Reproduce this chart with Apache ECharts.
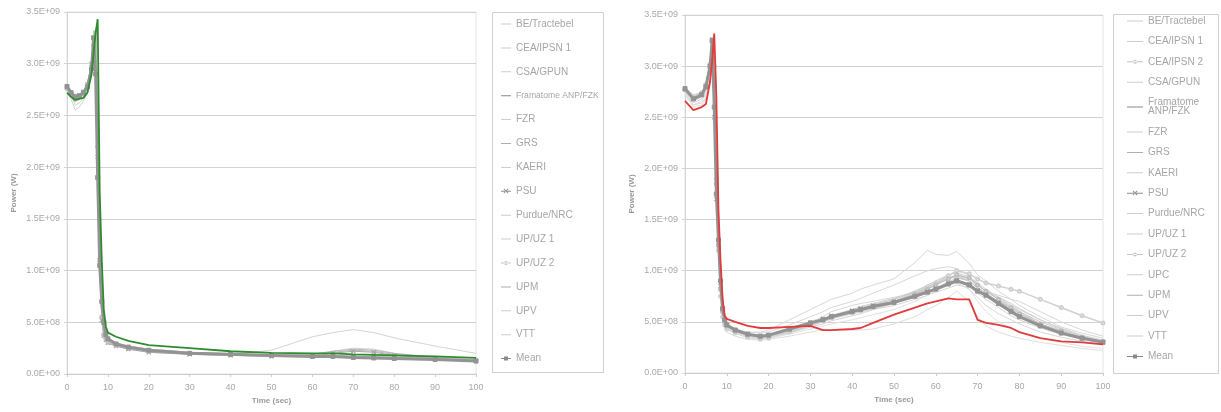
<!DOCTYPE html>
<html>
<head>
<meta charset="utf-8">
<script src="https://cdn.jsdelivr.net/npm/echarts@6/dist/echarts.min.js"></script>
<style>
  html, body { margin: 0; padding: 0; background: #ffffff; }
  #chart { width: 1221px; height: 412px; }
</style>
</head>
<body>
<div id="chart"></div>
<script>
// ---- Data: reactor power, values in units of 1E+09 W ----

// Case A (left panel) sample times, s
const timeA = [0,1,2,3,4,5,6,6.5,7,7.5,8,8.5,9,9.5,10,12,15,20,30,40,50,60,65,70,75,80,90,100];
const aBE      = [2.75,2.70,2.66,2.68,2.70,2.76,2.92,3.15,3.30,2.60,1.40,0.70,0.42,0.36,0.33,0.30,0.27,0.24,0.21,0.195,0.185,0.18,0.18,0.17,0.165,0.16,0.15,0.14];
const aCEA1    = [2.76,2.70,2.60,2.62,2.66,2.74,2.90,3.10,3.25,2.30,1.20,0.60,0.40,0.35,0.32,0.29,0.26,0.23,0.205,0.19,0.18,0.19,0.22,0.25,0.24,0.20,0.16,0.14];
const aCSA     = [2.74,2.66,2.55,2.58,2.64,2.72,2.88,3.05,3.20,2.00,1.00,0.50,0.38,0.34,0.31,0.28,0.25,0.22,0.20,0.19,0.23,0.36,0.40,0.43,0.40,0.35,0.27,0.20];
const aFRA     = [2.72,2.68,2.65,2.66,2.67,2.72,2.90,3.10,3.30,3.43,1.75,1.10,0.62,0.46,0.40,0.36,0.32,0.28,0.25,0.22,0.205,0.20,0.20,0.19,0.185,0.18,0.17,0.155];
const aFZR     = [2.78,2.72,2.68,2.70,2.73,2.80,3.00,3.22,3.32,2.50,1.30,0.62,0.40,0.35,0.32,0.29,0.26,0.23,0.20,0.19,0.18,0.17,0.17,0.165,0.16,0.155,0.145,0.13];
const aGRS     = [2.77,2.71,2.67,2.69,2.72,2.79,2.97,3.20,3.30,2.40,1.25,0.60,0.39,0.34,0.31,0.28,0.25,0.22,0.20,0.19,0.185,0.19,0.22,0.24,0.23,0.20,0.16,0.135];
const aKAERI   = [2.76,2.70,2.67,2.68,2.71,2.77,2.94,3.18,3.28,2.30,1.15,0.55,0.37,0.33,0.30,0.27,0.24,0.21,0.19,0.18,0.175,0.17,0.17,0.165,0.16,0.155,0.14,0.125];
const aPSU     = [2.78,2.71,2.67,2.69,2.73,2.80,3.00,3.25,3.30,2.10,1.10,0.52,0.37,0.33,0.30,0.27,0.24,0.21,0.19,0.18,0.17,0.17,0.20,0.22,0.21,0.18,0.15,0.13];
const aPURDUE  = [2.77,2.71,2.67,2.69,2.72,2.78,2.96,3.20,3.29,2.35,1.20,0.58,0.38,0.34,0.31,0.28,0.25,0.22,0.20,0.185,0.175,0.17,0.17,0.165,0.16,0.155,0.145,0.13];
const aUPUZ1   = [2.75,2.69,2.64,2.66,2.70,2.76,2.93,3.15,3.27,2.50,1.30,0.65,0.42,0.36,0.33,0.30,0.27,0.24,0.21,0.195,0.185,0.18,0.18,0.175,0.17,0.165,0.155,0.14];
const aUPUZ2   = [2.76,2.70,2.66,2.68,2.71,2.77,2.95,3.18,3.30,2.20,1.10,0.55,0.38,0.34,0.31,0.28,0.25,0.22,0.20,0.19,0.18,0.175,0.175,0.17,0.165,0.16,0.15,0.135];
const aUPM     = [2.77,2.70,2.66,2.68,2.71,2.78,2.96,3.20,3.31,2.45,1.25,0.60,0.39,0.35,0.32,0.29,0.26,0.23,0.20,0.19,0.18,0.18,0.21,0.23,0.22,0.19,0.155,0.13];
const aUPV     = [2.74,2.68,2.63,2.65,2.69,2.75,2.92,3.12,3.24,2.20,1.10,0.55,0.38,0.34,0.31,0.28,0.25,0.22,0.20,0.19,0.18,0.175,0.17,0.165,0.16,0.155,0.145,0.13];
const aVTT     = [2.78,2.72,2.68,2.70,2.74,2.81,3.00,3.24,3.33,2.60,1.35,0.66,0.41,0.36,0.33,0.30,0.27,0.24,0.21,0.195,0.185,0.18,0.175,0.17,0.165,0.16,0.15,0.135];
const aMEAN    = [2.78,2.72,2.68,2.69,2.72,2.78,2.95,3.25,2.90,1.90,1.05,0.70,0.50,0.38,0.34,0.29,0.26,0.23,0.20,0.19,0.18,0.17,0.17,0.16,0.155,0.15,0.14,0.125];

// Case B (right panel) sample times, s
const timeB = [0,2,4,5,6,6.5,7,7.5,8,8.5,9,9.5,10,12,15,18,20,25,30,33,35,40,42,45,50,55,58,60,63,65,68,70,72,75,78,80,85,90,95,100];
const bBE      = [2.76,2.69,2.72,2.78,2.96,3.18,3.28,2.20,1.30,0.80,0.55,0.47,0.44,0.40,0.37,0.36,0.37,0.42,0.48,0.51,0.54,0.58,0.60,0.62,0.66,0.72,0.76,0.79,0.83,0.86,0.84,0.78,0.72,0.64,0.56,0.52,0.44,0.38,0.33,0.30];
const bCEA1    = [2.74,2.62,2.64,2.70,2.90,3.10,3.25,2.40,1.40,0.85,0.58,0.48,0.45,0.42,0.40,0.40,0.42,0.52,0.62,0.68,0.72,0.78,0.82,0.86,0.92,1.08,1.20,1.16,1.15,1.19,1.07,0.96,0.90,0.80,0.72,0.66,0.55,0.45,0.39,0.34];
const bCEA2    = [2.77,2.70,2.74,2.82,3.02,3.26,3.00,1.90,1.20,0.75,0.55,0.47,0.43,0.39,0.35,0.33,0.34,0.40,0.47,0.51,0.54,0.59,0.61,0.64,0.70,0.78,0.84,0.88,0.95,1.00,0.97,0.92,0.88,0.85,0.82,0.80,0.72,0.64,0.56,0.49];
const bCSA     = [2.72,2.60,2.62,2.68,2.88,3.08,3.22,2.30,1.40,0.80,0.52,0.44,0.40,0.36,0.33,0.32,0.33,0.36,0.40,0.42,0.42,0.42,0.42,0.43,0.48,0.55,0.62,0.66,0.74,0.80,0.70,0.55,0.46,0.40,0.36,0.34,0.30,0.27,0.24,0.22];
const bFRA     = [2.66,2.57,2.60,2.63,2.85,3.05,3.32,2.70,1.60,1.10,0.72,0.56,0.53,0.50,0.46,0.44,0.44,0.45,0.46,0.42,0.42,0.43,0.44,0.49,0.57,0.64,0.68,0.70,0.73,0.72,0.72,0.52,0.49,0.47,0.44,0.40,0.34,0.31,0.30,0.28];
const bFZR     = [2.79,2.72,2.74,2.80,3.02,3.27,3.10,2.10,1.25,0.78,0.58,0.50,0.46,0.41,0.37,0.35,0.36,0.41,0.47,0.50,0.53,0.58,0.60,0.63,0.68,0.74,0.79,0.83,0.89,0.93,0.90,0.84,0.78,0.68,0.62,0.58,0.48,0.40,0.34,0.30];
const bGRS     = [2.77,2.67,2.71,2.78,2.98,3.22,2.90,1.90,1.20,0.80,0.60,0.50,0.45,0.40,0.36,0.34,0.35,0.40,0.46,0.50,0.53,0.59,0.62,0.66,0.72,0.80,0.86,0.90,0.96,0.98,0.94,0.88,0.82,0.74,0.66,0.60,0.48,0.40,0.35,0.31];
const bKAERI   = [2.78,2.70,2.73,2.80,3.00,3.24,2.70,1.80,1.20,0.80,0.60,0.50,0.45,0.40,0.37,0.35,0.36,0.42,0.50,0.55,0.60,0.66,0.68,0.70,0.74,0.78,0.80,0.82,0.86,0.88,0.82,0.74,0.66,0.58,0.52,0.48,0.40,0.35,0.31,0.28];
const bPSU     = [2.78,2.68,2.72,2.80,3.00,3.26,2.50,1.70,1.25,0.85,0.62,0.52,0.47,0.42,0.38,0.36,0.37,0.43,0.49,0.53,0.56,0.61,0.63,0.66,0.70,0.76,0.80,0.83,0.88,0.91,0.87,0.81,0.77,0.70,0.62,0.56,0.47,0.40,0.34,0.30];
const bPURDUE  = [2.76,2.66,2.70,2.78,2.98,3.20,3.10,2.00,1.30,0.82,0.58,0.49,0.45,0.40,0.36,0.34,0.35,0.41,0.48,0.52,0.56,0.62,0.65,0.68,0.73,0.80,0.85,0.88,0.93,0.95,0.90,0.83,0.75,0.66,0.60,0.56,0.46,0.39,0.34,0.30];
const bUPUZ1   = [2.75,2.66,2.70,2.77,2.97,3.20,3.20,2.20,1.35,0.85,0.60,0.50,0.45,0.40,0.36,0.34,0.35,0.39,0.45,0.48,0.51,0.56,0.58,0.62,0.68,0.76,0.82,0.86,0.92,0.95,0.92,0.86,0.80,0.72,0.66,0.62,0.52,0.44,0.37,0.32];
const bUPUZ2   = [2.77,2.68,2.72,2.79,2.99,3.24,2.80,1.85,1.25,0.82,0.60,0.50,0.46,0.41,0.37,0.35,0.36,0.42,0.48,0.52,0.55,0.60,0.62,0.65,0.70,0.77,0.82,0.86,0.92,0.96,0.93,0.86,0.80,0.72,0.64,0.58,0.48,0.41,0.35,0.31];
const bUPC     = [2.74,2.64,2.68,2.75,2.95,3.18,3.25,2.30,1.40,0.88,0.62,0.52,0.48,0.43,0.40,0.39,0.40,0.47,0.55,0.60,0.64,0.70,0.73,0.78,0.86,0.95,1.00,1.02,1.04,1.02,0.95,0.86,0.80,0.76,0.72,0.70,0.60,0.50,0.42,0.36];
const bUPM     = [2.78,2.69,2.73,2.80,3.00,3.25,2.75,1.80,1.25,0.82,0.60,0.50,0.46,0.41,0.37,0.35,0.36,0.42,0.49,0.53,0.56,0.62,0.64,0.67,0.72,0.79,0.84,0.87,0.92,0.94,0.90,0.83,0.78,0.70,0.64,0.60,0.50,0.42,0.36,0.31];
const bUPV     = [2.73,2.62,2.66,2.73,2.92,3.15,3.22,2.25,1.35,0.84,0.58,0.48,0.44,0.39,0.35,0.33,0.34,0.38,0.43,0.46,0.48,0.52,0.54,0.57,0.62,0.70,0.76,0.80,0.86,0.88,0.82,0.70,0.60,0.50,0.44,0.40,0.34,0.30,0.26,0.24];
const bVTT     = [2.79,2.71,2.75,2.82,3.03,3.28,3.15,2.10,1.30,0.80,0.58,0.50,0.46,0.41,0.37,0.35,0.36,0.41,0.47,0.51,0.54,0.60,0.62,0.65,0.70,0.78,0.83,0.87,0.93,0.96,0.92,0.86,0.80,0.74,0.68,0.63,0.52,0.43,0.36,0.32];
const bMEAN    = [2.78,2.68,2.72,2.80,3.00,3.25,2.60,1.75,1.30,0.90,0.63,0.52,0.47,0.42,0.38,0.36,0.37,0.43,0.49,0.52,0.55,0.60,0.62,0.65,0.69,0.75,0.79,0.82,0.87,0.90,0.86,0.80,0.76,0.68,0.60,0.55,0.46,0.39,0.34,0.30];

const UNIT = 1e9; // values above are in 1E+09 W

// Axis ticks
const powerTicks = { min: 0, max: 3.5e9, interval: 0.5e9 };
const timeTicks = { min: 0, max: 100, interval: 10 };

// Participant series per panel: [name, values]
const seriesA = [
  ['BE/Tractebel', aBE], ['CEA/IPSN 1', aCEA1], ['CSA/GPUN', aCSA],
  ['Framatome ANP/FZK', aFRA], ['FZR', aFZR], ['GRS', aGRS], ['KAERI', aKAERI],
  ['PSU', aPSU], ['Purdue/NRC', aPURDUE], ['UP/UZ 1', aUPUZ1], ['UP/UZ 2', aUPUZ2],
  ['UPM', aUPM], ['UPV', aUPV], ['VTT', aVTT], ['Mean', aMEAN]
];
const seriesB = [
  ['BE/Tractebel', bBE], ['CEA/IPSN 1', bCEA1], ['CEA/IPSN 2', bCEA2], ['CSA/GPUN', bCSA],
  ['Framatome ANP/FZK', bFRA], ['FZR', bFZR], ['GRS', bGRS], ['KAERI', bKAERI],
  ['PSU', bPSU], ['Purdue/NRC', bPURDUE], ['UP/UZ 1', bUPUZ1], ['UP/UZ 2', bUPUZ2],
  ['UPC', bUPC], ['UPM', bUPM], ['UPV', bUPV], ['VTT', bVTT], ['Mean', bMEAN]
];

// ---- Styling ----
const FONT = 'Liberation Sans, Arial, sans-serif';
const CROSS = 'path://M0,1L1,0L5,4L9,0L10,1L6,5L10,9L9,10L5,6L1,10L0,9L4,5Z';

const lineColorsA = {
  'BE/Tractebel': '#dcdcdc', 'CEA/IPSN 1': '#d2d2d2', 'CSA/GPUN': '#d4d4d4',
  'FZR': '#d0d0d0', 'GRS': '#bcbcbc', 'KAERI': '#c8c8c8', 'Purdue/NRC': '#c4c4c4',
  'UP/UZ 1': '#cccccc', 'UPM': '#b8b8b8', 'UPV': '#e0e0e0', 'VTT': '#c8c8c8'
};
const lineColorsB = {
  'BE/Tractebel': '#d6d6d6', 'CEA/IPSN 1': '#d8d8d8', 'CSA/GPUN': '#dedede',
  'FZR': '#d0d0d0', 'GRS': '#cdcdcd', 'KAERI': '#d8d8d8', 'Purdue/NRC': '#d2d2d2',
  'UP/UZ 1': '#d4d4d4', 'UPC': '#d8d8d8', 'UPM': '#cacaca', 'UPV': '#e2e2e2', 'VTT': '#d0d0d0'
};

function styleFor(name, panel) {
  const highlight = panel === 0 ? '#2e8b2e' : '#e23b3b';
  if (name === 'Framatome ANP/FZK')
    return { color: highlight, width: 1.8, symbol: 'none', z: 5 };
  if (name === 'Mean')
    return { color: '#939393', width: 3, symbol: 'rect', size: 4, z: 4 };
  if (name === 'PSU')
    return { color: '#a6a6a6', width: 1, symbol: CROSS, size: 4, z: 3 };
  if (name === 'UP/UZ 2')
    return { color: '#bdbdbd', width: 1, symbol: 'emptyCircle', size: 3, z: 3 };
  if (name === 'CEA/IPSN 2')
    return { color: '#d0d0d0', width: 1.5, symbol: 'emptyCircle', size: 3, z: 2 };
  const map = panel === 0 ? lineColorsA : lineColorsB;
  return { color: map[name] || '#d0d0d0', width: 1, symbol: 'none', z: 2 };
}

function buildSeries(list, times, panel) {
  return list.map(([name, vals]) => {
    const s = styleFor(name, panel);
    return {
      type: 'line', name, xAxisIndex: panel, yAxisIndex: panel,
      data: times.map((t, i) => [t, vals[i] * UNIT]),
      symbol: s.symbol, symbolSize: s.size || 0, showSymbol: s.symbol !== 'none',
      lineStyle: { color: s.color, width: s.width },
      itemStyle: { color: s.color, borderColor: s.color },
      z: s.z, silent: true, animation: false
    };
  });
}

// Legend key glyphs: a short horizontal line (with an optional marker) drawn
// inside a w x h box; tiny corner specks keep the path's bounds at w x h.
function keyGlyph(w, h, marker) {
  const cy = h / 2, cx = w / 2;
  let p = `M0,0h0.05v0.05h-0.05Z M${w - 0.05},${h - 0.05}h0.05v0.05h-0.05Z M0,${cy - 0.5}h${w}v1h-${w}Z`;
  if (marker === 'rect') p += ` M${cx - 2},${cy - 2}h4v4h-4Z`;
  if (marker === 'cross') p += ` M${cx - 2.5},${cy - 2}l0.7,-0.7l4.3,4.3l-0.7,0.7Z M${cx + 2.5},${cy - 2}l-0.7,-0.7l-4.3,4.3l0.7,0.7Z`;
  if (marker === 'circle') p += ` M${cx - 2},${cy} a2,2 0 1,0 4,0 a2,2 0 1,0 -4,0 Z`;
  return 'path://' + p;
}

function legendItems(list, w, h) {
  return list.map(([name]) => {
    let c = '#cdcdcd', marker = null;
    if (name === 'Framatome ANP/FZK') c = '#8a8a8a';
    if (name === 'GRS' || name === 'UPM') c = '#b0b0b0';
    if (name === 'Mean') { c = '#8a8a8a'; marker = 'rect'; }
    if (name === 'PSU') { c = '#8e8e8e'; marker = 'cross'; }
    if (name === 'UP/UZ 2' || name === 'CEA/IPSN 2') { c = '#c4c4c4'; marker = 'circle'; }
    return { name, icon: keyGlyph(w, h, marker), itemStyle: { color: c, borderWidth: 0 } };
  });
}

function sciLabel(v) {
  if (v === 0) return '0.0E+00';
  const e = Math.floor(Math.log10(v) + 1e-9);
  const m = v / Math.pow(10, e);
  return m.toFixed(1) + 'E+' + String(e).padStart(2, '0');
}

const axisText = { color: '#a8a8a8', fontSize: 9, fontFamily: FONT };
const nameText = { color: '#9a9a9a', fontSize: 8, fontWeight: 'bold', fontFamily: FONT };

function xAxisFor(gridIndex) {
  return {
    type: 'value', gridIndex, min: timeTicks.min, max: timeTicks.max, interval: timeTicks.interval,
    name: 'Time (sec)', nameLocation: 'middle', nameGap: 23, nameTextStyle: nameText,
    axisLine: { show: true, lineStyle: { color: '#cccccc' } },
    axisTick: { show: true, length: 3, lineStyle: { color: '#cccccc' } },
    axisLabel: Object.assign({ margin: 9 }, axisText),
    splitLine: { show: false }
  };
}
function yAxisFor(gridIndex) {
  return {
    type: 'value', gridIndex, min: powerTicks.min, max: powerTicks.max, interval: powerTicks.interval,
    name: 'Power (W)', nameLocation: 'middle', nameGap: 49, nameTextStyle: nameText,
    axisLine: { show: true, lineStyle: { color: '#d4d4d4' } },
    axisTick: { show: true, length: 3, lineStyle: { color: '#d4d4d4' } },
    axisLabel: Object.assign({ margin: 7, formatter: sciLabel }, axisText),
    splitLine: { show: true, lineStyle: { color: '#d3d3d3', width: 1 } }
  };
}

const legendText = { color: '#a6a6a6', fontSize: 10, fontFamily: FONT };

const chart = echarts.init(document.getElementById('chart'), null, { renderer: 'canvas' });
chart.setOption({
  backgroundColor: '#ffffff',
  animation: false,
  grid: [
    { left: 67, top: 12, width: 409, height: 362, show: true, borderColor: '#e4e4e4', borderWidth: 1 },
    { left: 685, top: 15, width: 418, height: 358, show: true, borderColor: '#e4e4e4', borderWidth: 1 }
  ],
  xAxis: [xAxisFor(0), xAxisFor(1)],
  yAxis: [yAxisFor(0), yAxisFor(1)],
  legend: [
    {
      orient: 'vertical', left: 501, top: 19, padding: 0,
      itemWidth: 10, itemHeight: 10, itemGap: 13.9,
      selectedMode: false, textStyle: Object.assign({ lineHeight: 10 }, legendText),
      data: legendItems(seriesA, 10, 10).map(it => it.name === 'Framatome ANP/FZK'
        ? Object.assign(it, { textStyle: { fontSize: 8.6 } }) : it)
    },
    {
      orient: 'vertical', left: 1127, top: 16, padding: 0,
      itemWidth: 16, itemHeight: 10, itemGap: 10.4,
      selectedMode: false, textStyle: Object.assign({ lineHeight: 9 }, legendText),
      formatter: n => n === 'Framatome ANP/FZK' ? 'Framatome\nANP/FZK' : n,
      data: legendItems(seriesB, 16, 10)
    }
  ],
  graphic: [
    { type: 'rect', shape: { x: 492.5, y: 12.5, width: 111, height: 360 }, style: { fill: 'none', stroke: '#d0d0d0', lineWidth: 1 }, silent: true },
    { type: 'rect', shape: { x: 1113.5, y: 14.5, width: 105, height: 359 }, style: { fill: 'none', stroke: '#d0d0d0', lineWidth: 1 }, silent: true }
  ],
  series: buildSeries(seriesA, timeA, 0).concat(buildSeries(seriesB, timeB, 1))
});
</script>
</body>
</html>
